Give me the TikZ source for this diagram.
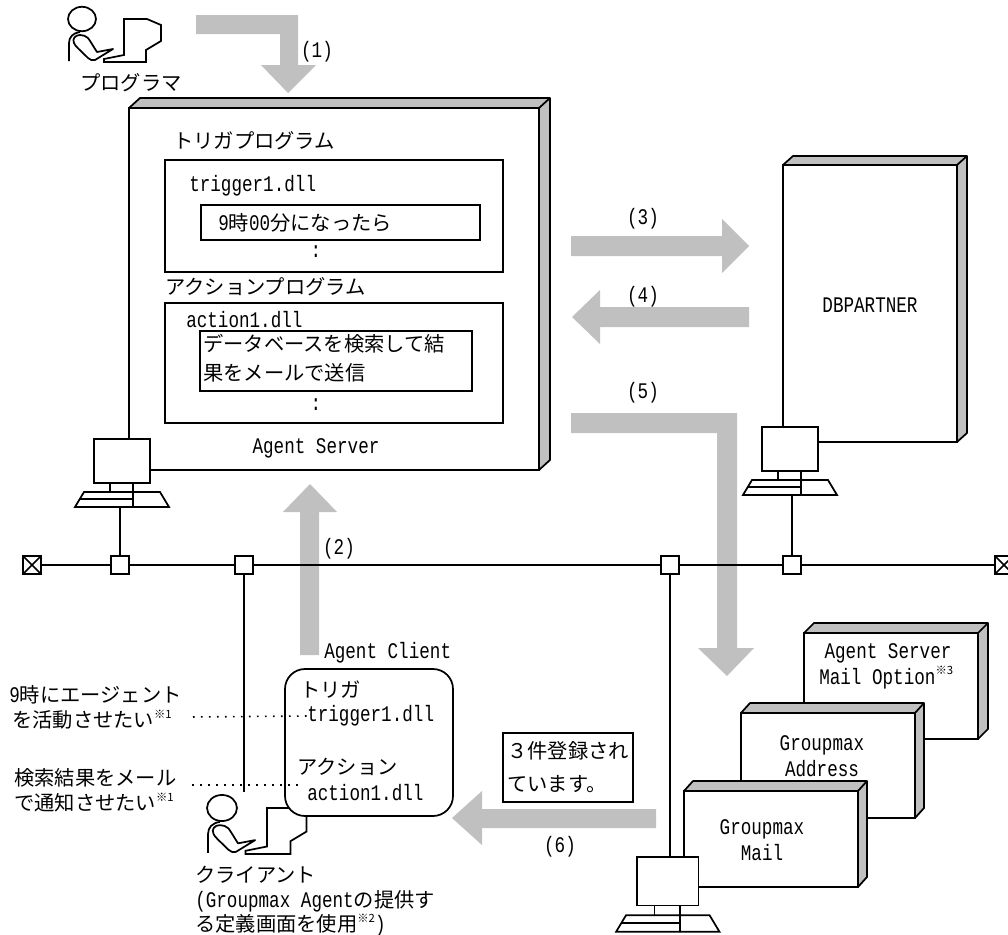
\documentclass[tikz,border=0pt]{standalone}
\usepackage{fontspec}
\setmainfont{Noto Sans CJK JP}
\newfontfamily\lat[Scale=1.1,FakeStretch=0.79]{Liberation Mono}
\definecolor{hatch}{HTML}{C0C0C0}
\newcommand{\jp}{\fontsize{15.2}{18}\selectfont}
\newcommand{\nt}[1]{\raisebox{0.45em}{\normalfont\fontsize{8.5}{9}\selectfont ※#1}}
% 3D box: x,y (front top-left), x2,y2 (front bottom-right), dx,dy
\newcommand{\tdbox}[6]{%
  \fill[hatch] (#1,#2) -- ++(#5,-#6) -- (#3+#5,#2-#6) -- (#3+#5,#4-#6) -- (#3,#4) -- (#3,#2) -- cycle;
  \draw[ln,fill=white] (#1,#2) rectangle (#3,#4);
  \draw[ln,line join=round] (#1,#2) -- ++(#5,-#6) -- (#3+#5,#2-#6) -- (#3+#5,#4-#6) -- (#3,#4);
  \draw[ln] (#3,#2) -- (#3+#5,#2-#6);
}
% computer: x0,y0,scale
\newcommand{\comp}[3]{%
  \begin{scope}[shift={(#1,#2)},scale=#3]
  \draw[ln,fill=white] (0,0) rectangle (56,44);
  \draw[ln] (16,44) -- (16,53);
  \draw[ln] (39,44) -- (39,53);
  \draw[ln,fill=white] (-10,53) -- (66,53) -- (75,68) -- (-19,68) -- cycle;
  \draw[ln] (-14,60) -- (39,60);
  \draw[ln] (39,44) -- (39,68);
  \end{scope}
}
% person: head centre x,y, scale
\newcommand{\person}[3]{%
  \begin{scope}[shift={(#1,#2)},scale=#3]
  \draw[ln,fill=white] (0,0) ellipse[x radius=14,y radius=12.2];
  \draw[ln] (-13,42) -- (-13,24) .. controls (-13,18) and (-9,14) .. (-2,13);
  \draw[ln,line join=round] (-2,16) .. controls (-7,16) and (-10,20) .. (-8,24) .. controls (-7,27) and (-3,30) .. (6,39) .. controls (8,41) and (11,42) .. (13,41) -- (31,30) -- (15,33) .. controls (11,27) and (9,23) .. (6,19) .. controls (4,17) and (1,16) .. (-2,16) -- cycle;
  \draw[ln,fill=white,line join=miter] (22,43) -- (22,40) -- (42,36) -- (42,0) -- (65,0) -- (79,6) -- (79,22) -- (64,31) -- (64,43) -- cycle;
  \end{scope}
}
\tikzset{
  ln/.style={line width=1.3pt,draw=black},
  lbl/.style={inner sep=0pt,anchor=west,font=\jp,align=left},
  ctr/.style={inner sep=0pt,anchor=center,font=\jp,align=center},
  hub/.style={draw=black,line width=1.3pt,fill=white,minimum size=13.5pt,inner sep=0pt},
  term/.style={hub,path picture={\draw[line width=1.3pt] (path picture bounding box.north west) -- (path picture bounding box.south east) (path picture bounding box.north east) -- (path picture bounding box.south west);}},
  dots/.style={line width=1.2pt,dash pattern=on 1.2pt off 4.8pt},
}
\begin{document}
\begin{tikzpicture}[x=0.75pt,y=-0.75pt]
\useasboundingbox (0,0) rectangle (1008,935);
\fill[white] (0,0) rectangle (1008,935);

% thick arrows
\fill[hatch] (196,15) -- (298,15) -- (298,65) -- (316,65) -- (288,93) -- (261,65) -- (280,65) -- (280,34) -- (196,34) -- cycle;
\fill[hatch] (571,236) -- (722,236) -- (722,219) -- (749,246) -- (722,273) -- (722,256) -- (571,256) -- cycle;
\fill[hatch] (749,307) -- (600,307) -- (600,290) -- (572,317) -- (600,344) -- (600,327) -- (749,327) -- cycle;
\fill[hatch] (571,413) -- (737,413) -- (737,648) -- (754,648) -- (727,676) -- (698,648) -- (717,648) -- (717,433) -- (571,433) -- cycle;
\fill[hatch] (300,655) -- (300,512) -- (283,512) -- (310,484) -- (337,512) -- (319,512) -- (319,655) -- cycle;
\fill[hatch] (656,809) -- (482,809) -- (482,791) -- (452,818) -- (482,845) -- (482,828) -- (656,828) -- cycle;

% bus and terminals
\node[hub] (h1) at (120,565) {};
\node[hub] (h2) at (244,565) {};
\node[hub] (h3) at (670,565) {};
\node[hub] (h4) at (792,565) {};
\node[term] (tl) at (32,565) {};
\node[term] (tr) at (1004,565) {};
\coordinate (c1) at (120,507);
\coordinate (c2) at (792,494);
\coordinate (c3) at (670,857);
\coordinate (c4) at (244,792);
\draw[ln] (tl) -- (h1) -- (h2) -- (h3) -- (h4) -- (tr);
\draw[ln] (h1) -- (c1);
\draw[ln] (h4) -- (c2);
\draw[ln] (h3) -- (c3);
\draw[ln] (h2) -- (c4);

% main server box
\tdbox{129}{108}{539}{470}{11}{10}
\comp{94}{439}{1}
\node[lbl] (t1) at (173,141) {トリガプログラム};
\draw[ln] (165,160) rectangle (503,272);
\node[lbl] (t2) at (189,186) {\lat trigger1.dll};
\draw[ln] (201,205) rectangle (480,240);
\node[lbl] (t3) at (218,223) {{\lat 9}時{\lat 00}分になったら};
\node[ctr] (t4) at (316,252) {\lat :};
\node[lbl] (t5) at (165,287) {アクションプログラム};
\draw[ln] (165,303) rectangle (503,423);
\node[lbl] (t6) at (186,320) {\lat action1.dll};
\draw[ln] (200,331) rectangle (472,391);
\node[lbl] (t7) at (203,344) {データベースを検索して結};
\node[lbl] (t8) at (203,373) {果をメールで送信};
\node[ctr] (t9) at (316,405) {\lat :};
\node[ctr] (t10) at (316,448) {\lat Agent Server};

% DB box
\tdbox{783}{165}{957}{442}{10}{9}
\comp{762}{427}{1}
\node[ctr] (db) at (870,305) {\lat DBPARTNER};

% stacked boxes
\tdbox{804}{633}{978}{739}{10}{10}
\tdbox{741}{713}{915}{818}{9}{10}
\tdbox{684}{791}{858}{887}{9}{10}
\comp{637}{857}{1.1}
\node[ctr] (m1) at (888,653) {\lat Agent Server};
\node[lbl] (m2) at (819,678) {\lat Mail Option\nt{3}};
\node[ctr] (m3) at (822,745) {\lat Groupmax};
\node[ctr] (m4) at (822,769) {\lat Address};
\node[ctr] (m5) at (762,829) {\lat Groupmax};
\node[ctr] (m6) at (762,853) {\lat Mail};

% persons
\person{82}{19}{1}
\person{222}{808}{1.07}
\node[lbl] (p1) at (80,83) {プログラマ};

% client box
\draw[ln,fill=white,rounded corners=15pt] (285,669) rectangle (453,816);
\node[lbl] (a1) at (324,653) {\lat Agent Client};
\node[lbl] (a2) at (300,690) {トリガ};
\node[lbl] (a3) at (307,716) {\lat trigger1.dll};
\node[lbl] (a4) at (297,767) {アクション};
\node[lbl] (a5) at (307,793) {\lat action1.dll};

% notes
\node[lbl] (n1) at (9,695) {{\lat 9}時にエージェント};
\node[lbl] (n2) at (12,720) {を活動させたい\nt{1}};
\node[lbl] (n3) at (14,778) {検索結果をメール};
\node[lbl] (n4) at (14,803) {で通知させたい\nt{1}};
\coordinate (d1) at (193,717);
\coordinate (d2) at (192,785);
\coordinate (d3) at (300,785);
\draw[dots] (d1) -- (a3.west);
\draw[dots] (d2) -- (d3);

\node[lbl] (k1) at (195,875) {クライアント};
\node[lbl] (k2) at (195,901) {{\lat (Groupmax Agent}の提供す};
\node[lbl] (k3) at (195,925) {る定義画面を使用\nt{2}{\lat )}};

% message box
\draw[ln,fill=white] (503,733) rectangle (633,802);
\node[lbl] (b1) at (507,751) {３件登録され};
\node[lbl] (b2) at (507,784) {ています。};

% labels
\node[ctr] (l1) at (317,52) {\lat (1)};
\node[ctr] (l2) at (339,549) {\lat (2)};
\node[ctr] (l3) at (643,219) {\lat (3)};
\node[ctr] (l4) at (643,297) {\lat (4)};
\node[ctr] (l5) at (643,393) {\lat (5)};
\node[ctr] (l6) at (560,847) {\lat (6)};
\end{tikzpicture}
\end{document}
